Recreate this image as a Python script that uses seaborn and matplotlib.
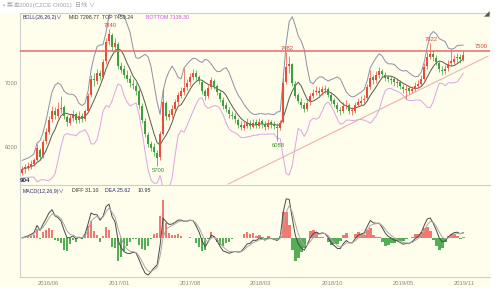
import numpy as np
import pandas as pd
import matplotlib
matplotlib.use("Agg")
import matplotlib.pyplot as plt
import seaborn as sns
from matplotlib.patches import Rectangle

sns.set_style("white")
plt.rcParams["font.family"] = ["Liberation Sans", "Noto Sans CJK SC", "DejaVu Sans"]

# ---------------- data ----------------
start_date = "2016-03-15"
step = "9D"

opens = [5600, 5650, 5690, 5710, 5730, 5800, 5960, 5860, 6090, 6240,
         6430, 6570, 6490, 6600, 6620, 6470, 6380, 6450, 6510, 6420,
         6490, 6430, 6570, 6810, 7070, 7030, 7160, 7100, 7340, 7650,
         7750, 7560, 7610, 7260, 7220, 7120, 7070, 6990, 6960, 6870,
         6640, 6410, 6190, 6040, 6000, 5900, 5840, 6210, 6690, 6470,
         6500, 6590, 6710, 6800, 6860, 6930, 7010, 7090, 7160, 7090,
         7020, 6870, 6800, 6930, 7030, 6950, 6850, 6740, 6650, 6580,
         6500, 6490, 6420, 6340, 6300, 6330, 6380, 6320, 6390, 6330,
         6400, 6350, 6310, 6390, 6340, 6320, 6290, 6390, 7010, 7260,
         7290, 6990, 6810, 6710, 6650, 6600, 6700, 6790, 6860, 6870,
         6860, 6890, 6910, 6810, 6730, 6660, 6580, 6570, 6650, 6650,
         6560, 6570, 6660, 6690, 6730, 6760, 6940, 7090, 7040, 7130,
         7180, 7130, 7090, 7050, 7060, 7000, 7010, 6940, 6890, 6920,
         6870, 6910, 6960, 6990, 7070, 7260, 7410, 7450, 7390, 7320,
         7210, 7190, 7230, 7310, 7330, 7390, 7410, 7370]
closes = [5650, 5680, 5700, 5740, 5790, 5980, 5850, 6080, 6230, 6420,
          6560, 6500, 6600, 6610, 6480, 6390, 6460, 6500, 6420, 6480,
          6440, 6560, 6800, 7060, 7040, 7150, 7110, 7330, 7640, 7760,
          7570, 7620, 7270, 7210, 7130, 7060, 7000, 6970, 6880, 6650,
          6420, 6200, 6050, 5990, 5920, 5830, 6200, 6700, 6480, 6510,
          6600, 6700, 6810, 6870, 6920, 7000, 7100, 7150, 7100, 7030,
          6880, 6790, 6920, 7040, 6960, 6860, 6750, 6640, 6590, 6510,
          6480, 6430, 6350, 6310, 6340, 6370, 6330, 6380, 6340, 6390,
          6360, 6320, 6380, 6350, 6330, 6300, 6380, 7000, 7250, 7300,
          7000, 6800, 6720, 6660, 6590, 6690, 6800, 6850, 6880, 6850,
          6900, 6900, 6820, 6720, 6670, 6590, 6560, 6640, 6660, 6570,
          6560, 6650, 6700, 6720, 6750, 6930, 7080, 7050, 7120, 7190,
          7140, 7080, 7060, 7050, 7010, 7000, 6950, 6900, 6910, 6880,
          6900, 6950, 6980, 7060, 7250, 7400, 7460, 7400, 7330, 7220,
          7180, 7220, 7300, 7340, 7380, 7400, 7380, 7440]
highs = [5700, 5730, 5760, 5790, 5830, 6040, 5990, 6120, 6290, 6480,
         6640, 6620, 6700, 6800, 6660, 6500, 6520, 6580, 6550, 6560,
         6530, 6600, 6850, 7120, 7150, 7220, 7200, 7380, 7700, 7840,
         7780, 7700, 7640, 7330, 7280, 7200, 7130, 7060, 7000, 6900,
         6680, 6450, 6240, 6100, 6060, 5960, 6250, 6900, 6720, 6580,
         6660, 6750, 6860, 6930, 7230, 7060, 7160, 7220, 7200, 7130,
         7050, 6900, 6970, 7100, 7060, 6980, 6880, 6780, 6700, 6620,
         6560, 6530, 6460, 6400, 6400, 6450, 6420, 6440, 6440, 6450,
         6430, 6400, 6430, 6420, 6400, 6380, 6420, 7080, 7482, 7420,
         7320, 7030, 6850, 6760, 6700, 6740, 6850, 6910, 6950, 6930,
         6960, 6970, 6940, 6840, 6760, 6700, 6630, 6700, 6730, 6690,
         6620, 6710, 6760, 6790, 6820, 6990, 7200, 7130, 7180, 7250,
         7220, 7170, 7130, 7110, 7090, 7060, 7040, 6990, 6970, 6960,
         6960, 7010, 7040, 7120, 7310, 7480, 7622, 7520, 7430, 7350,
         7260, 7280, 7360, 7530, 7430, 7470, 7450, 7500]
lows = [5570, 5600, 5640, 5660, 5700, 5780, 5800, 5830, 6050, 6200,
        6390, 6440, 6450, 6530, 6430, 6330, 6340, 6400, 6370, 6380,
        6390, 6400, 6540, 6780, 6960, 6990, 7040, 7080, 7300, 7600,
        7500, 7480, 7220, 7150, 7080, 7010, 6940, 6900, 6820, 6600,
        6380, 6150, 6000, 5930, 5860, 5700, 5800, 6180, 6420, 6420,
        6460, 6550, 6660, 6760, 6820, 6890, 6960, 7050, 7040, 6980,
        6830, 6730, 6770, 6900, 6910, 6810, 6700, 6600, 6540, 6460,
        6430, 6380, 6300, 6260, 6260, 6300, 6280, 6290, 6290, 6300,
        6300, 6270, 6280, 6300, 6280, 6088, 6260, 6370, 6980, 7150,
        6950, 6760, 6680, 6610, 6540, 6560, 6660, 6760, 6810, 6800,
        6820, 6840, 6780, 6670, 6620, 6540, 6500, 6530, 6600, 6520,
        6500, 6530, 6620, 6650, 6680, 6720, 6900, 6990, 7000, 7080,
        7090, 7030, 7010, 6990, 6960, 6940, 6900, 6850, 6750, 6830,
        6840, 6870, 6920, 6950, 7040, 7220, 7380, 7340, 7280, 7170,
        7120, 7140, 7190, 7270, 7290, 7330, 7320, 7340]

resistance = 7500
trend_dates = ["2017-11-23", "2020-01-11"]
trend_prices = [5420, 7420]
peak_idx = [29, 88, 136]
trough_idx = [45, 85]
month_ticks = ["2016-06-01", "2017-01-01", "2017-08-01", "2018-03-01",
               "2018-10-01", "2019-05-01", "2019-11-01"]
month_labels = ["2016/06", "2017/01", "2017/08", "2018/03",
                "2018/10", "2019/05", "2019/11"]

# ---------------- derived indicators ----------------
dates = pd.date_range(start_date, periods=len(closes), freq=step)
o = np.array(opens, float); c = np.array(closes, float)
h = np.array(highs, float); l = np.array(lows, float)

w = 6
mid = pd.Series(c).rolling(w, min_periods=1).mean().values
std = np.array([np.std(np.concatenate([h[max(0, i - w + 1):i + 1],
                                       l[max(0, i - w + 1):i + 1],
                                       c[max(0, i - w + 1):i + 1]]))
                for i in range(len(c))])
upper = mid + 2.6 * std
lower = mid - 2.6 * std

cs = pd.Series(c)
diff = (cs.ewm(span=2.6, adjust=False).mean() - cs.ewm(span=5.6, adjust=False).mean()).values
dea = pd.Series(diff).ewm(span=3.0, adjust=False).mean().values
hist = 2 * (diff - dea)

# ---------------- figure ----------------
W, H = 500, 307
fig = plt.figure(figsize=(W / 100, H / 100), dpi=100)
fig.patch.set_facecolor("white")
fig.add_artist(Rectangle((0, 1 - 287 / H), 490 / W, (287 - 13) / H,
                         transform=fig.transFigure, facecolor="#fffdeb",
                         edgecolor="none", zorder=0))

def fx(px):
    return px / W

def fy(py):
    return 1 - py / H

ax1 = fig.add_axes([fx(20), fy(185), fx(470), (185 - 13) / H])
ax2 = fig.add_axes([fx(20), fy(277), fx(470), (277 - 185) / H], sharex=ax1)
for ax in (ax1, ax2):
    ax.set_facecolor("none")
    for s in ax.spines.values():
        s.set_color("#cfcfcf")
        s.set_linewidth(0.8)
    ax.spines["right"].set_visible(False)
ax2.spines["top"].set_visible(False)

xmin = pd.Timestamp("2016-03-09")
xmax = pd.Timestamp("2020-01-17")
ax1.set_xlim(xmin, xmax)
ax1.set_ylim(5406, 8094)

up_col = "#ec4b3c"
dn_col = "#3f9f3f"
cols = [up_col if cc >= oo else dn_col for oo, cc in zip(o, c)]
ax1.vlines(dates, l, h, colors=cols, linewidth=0.5, zorder=3)
body = np.maximum(np.abs(c - o), 12)
ax1.bar(dates, body, bottom=np.minimum(o, c), width=pd.Timedelta(days=5),
        color=cols, linewidth=0, zorder=4)

sns.lineplot(x=dates, y=upper, ax=ax1, color="#8f8fa8", linewidth=0.7, zorder=2)
sns.lineplot(x=dates, y=mid, ax=ax1, color="#5a5a48", linewidth=0.7, zorder=2)
sns.lineplot(x=dates, y=lower, ax=ax1, color="#dca4e4", linewidth=0.7, zorder=2)

ax1.axhline(resistance, color="#e76a6a", linewidth=1.1, zorder=5)
sns.lineplot(x=pd.to_datetime(trend_dates), y=trend_prices, ax=ax1,
             color="#ecb2b2", linewidth=0.8, zorder=1)

for i in peak_idx:
    ax1.annotate(f"{int(h[i])}", (dates[i], h[i]), xytext=(1, 1),
                 textcoords="offset points", ha="center", va="bottom",
                 fontsize=4.2, color="#e0403a", zorder=6)
for i in trough_idx:
    ax1.annotate(f"{int(l[i])}", (dates[i], l[i]), xytext=(1, -1.5),
                 textcoords="offset points", ha="center", va="top",
                 fontsize=4.2, color="#3a8f3a", zorder=6)
ax1.text(xmax - pd.Timedelta(days=6), resistance + 25, f"{resistance}",
         ha="right", va="bottom", fontsize=4.2, color="#e0403a")

ax1.set_yticks([6000, 7000])
ax1.set_yticklabels(["6000", "7000"])
ax1.tick_params(axis="y", length=0, pad=1.5, labelsize=4.2, labelcolor="#8a8a8a")
ax1.tick_params(axis="x", length=0, labelbottom=False)
ax1.set_xlabel(""); ax1.set_ylabel("")

# MACD panel
hcols = ["#f07a72" if v >= 0 else "#55ad55" for v in hist]
ax2.bar(dates, hist, width=pd.Timedelta(days=8), color=hcols, linewidth=0, zorder=2)
sns.lineplot(x=dates, y=diff, ax=ax2, color="#4a4a4a", linewidth=0.7, zorder=3)
sns.lineplot(x=dates, y=dea, ax=ax2, color="#a8a8a8", linewidth=0.7, zorder=3)
s_up = max(np.max(diff), np.max(dea), np.max(hist)) / 41
s_dn = -min(np.min(diff), np.min(dea), np.min(hist)) / 37
s = max(s_up, s_dn)
ax2.set_ylim(-39 * s, 53 * s)
ax2.set_yticks([])
ax2.set_xticks(pd.to_datetime(month_ticks))
ax2.set_xticklabels(month_labels)
ax2.tick_params(axis="x", length=0, pad=3, labelsize=4.2, labelcolor="#8a8a8a")
ax2.set_xlabel(""); ax2.set_ylabel("")

# header texts
fig.text(fx(3), fy(5), "▪ 菜油2001(CZCE OI001)", fontsize=4.4, color="#a0a0a0",
         va="center", ha="left")
fig.text(fx(75), fy(5), "日线 ∨", fontsize=4.4, color="#a0a0a0", va="center", ha="left")
fig.text(fx(489), fy(15), "◢", fontsize=4, color="#555555", va="center", ha="right")

fs = 3.8
y_b = fy(17.5)
fig.text(fx(23), y_b, "BOLL(26,26,2)∨", fontsize=fs, color="#2b2b6e", va="center")
fig.text(fx(69), y_b, "MID 7298.77", fontsize=fs, color="#333333", va="center")
fig.text(fx(102), y_b, "TOP 7459.24", fontsize=fs, color="#333333", va="center")
fig.text(fx(146), y_b, "BOTTOM 7138.30", fontsize=fs, color="#d14fe0", va="center")

y_m = fy(191)
fig.text(fx(23), y_m, "MACD(12,26,9)∨", fontsize=fs, color="#2b2b6e", va="center")
fig.text(fx(72), y_m, "DIFF 31.10", fontsize=fs, color="#333333", va="center")
fig.text(fx(105), y_m, "DEA 25.62", fontsize=fs, color="#2b2b6e", va="center")
fig.text(fx(138), y_m, "10.95", fontsize=fs, color="#333333", va="center")

fig.text(fx(20), fy(181), "904", fontsize=4.5, color="#1f2a5a", fontweight="bold",
         va="center", ha="left")

fig.savefig("out.png", dpi=100)
